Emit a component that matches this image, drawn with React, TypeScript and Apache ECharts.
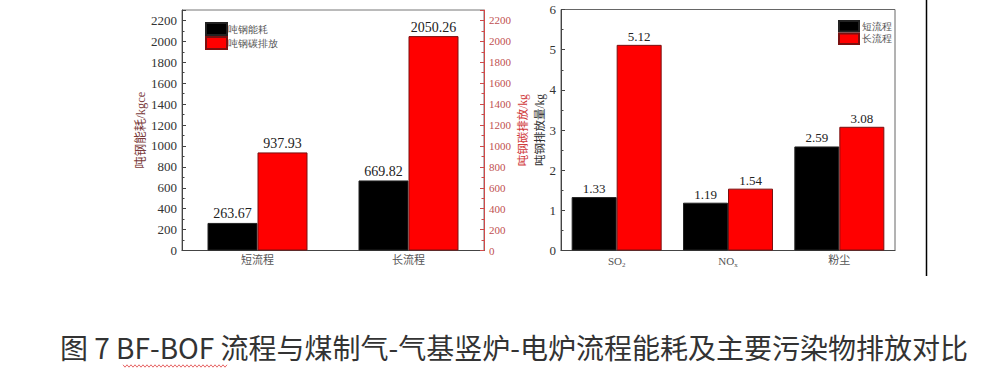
import React, { useEffect, useRef } from "react";
import * as echarts from "echarts";

const routeCategories = ["短流程", "长流程"];
const energyValues = [263.67, 669.82];
const carbonValues = [937.93, 2050.26];
const energyName = "吨钢能耗";
const carbonName = "吨钢碳排放";

const pollutantCategories = ["SO2", "NOx", "粉尘"];
const shortRouteValues = [1.33, 1.19, 2.59];
const longRouteValues = [5.12, 1.54, 3.08];
const shortName = "短流程";
const longName = "长流程";

const captionText = "图 7 BF-BOF 流程与煤制气-气基竖炉-电炉流程能耗及主要污染物排放对比";

const SERIF = "'Liberation Serif', 'Times New Roman', 'Noto Sans CJK SC', serif";

function wavy(x0: number, x1: number, y: number) {
  const pts: number[][] = [];
  let up = true;
  for (let x = x0; x <= x1; x += 2) {
    pts.push([x, up ? y - 1.2 : y + 1.2]);
    up = !up;
  }
  return pts;
}

const plain = (v: number) => String(v);

export default function App() {
  const ref = useRef<HTMLDivElement>(null);
  useEffect(() => {
    document.body.style.margin = "0";
    const chart = echarts.init(ref.current!, null, { renderer: "svg" });
    const catLabel = {
      color: "#555",
      fontSize: 11,
      fontFamily: SERIF,
      margin: 4,
    };
    const option: any = {
      animation: false,
      backgroundColor: "#fff",
      grid: [
        { left: 182, right: 515, top: 10, bottom: 131.5, show: true, borderColor: "#777", borderWidth: 1 },
        { left: 561, right: 104, top: 9.5, bottom: 131.5, show: true, borderColor: "#666", borderWidth: 1 },
      ],
      legend: [
        {
          orient: "vertical",
          left: 200,
          top: 17,
          itemWidth: 21,
          itemHeight: 12,
          itemGap: 0,
          icon: "rect",
          data: [energyName, carbonName],
          textStyle: { fontSize: 10, color: "#555", padding: [0, 0, 0, -4] },
          selectedMode: false,
        },
        {
          orient: "vertical",
          left: 833,
          top: 15,
          itemWidth: 20,
          itemHeight: 10.5,
          itemGap: 0,
          icon: "rect",
          data: [shortName, longName],
          textStyle: { fontSize: 10, color: "#555", padding: [0, 0, 0, -2] },
          selectedMode: false,
        },
      ],
      xAxis: [
        {
          type: "category",
          gridIndex: 0,
          data: routeCategories,
          axisLine: { lineStyle: { color: "#444" } },
          axisTick: { inside: true, lineStyle: { color: "#444" } },
          axisLabel: catLabel,
        },
        {
          type: "category",
          gridIndex: 1,
          data: pollutantCategories,
          axisLine: { lineStyle: { color: "#444" } },
          axisTick: { inside: true, lineStyle: { color: "#444" } },
          axisLabel: {
            ...catLabel,
            formatter: (v: string) =>
              v === "SO2" ? "{n|SO}{s|2}" : v === "NOx" ? "{n|NO}{s|x}" : v,
            rich: {
              n: { fontSize: 11, color: "#555", fontFamily: SERIF },
              s: { fontSize: 7, color: "#555", fontFamily: SERIF, padding: [7, 0, 0, 0] },
            },
          },
        },
      ],
      yAxis: [
        {
          type: "value",
          gridIndex: 0,
          min: 0,
          max: 2300,
          interval: 200,
          name: "吨钢能耗/kgce",
          nameLocation: "middle",
          nameRotate: 90,
          nameGap: 30,
          nameTextStyle: { color: "#7a3b3b", fontSize: 12.5, fontFamily: SERIF },
          axisLine: { show: true, lineStyle: { color: "#444" } },
          axisTick: { show: true, inside: true, length: 4, lineStyle: { color: "#444" } },
          minorTick: { show: true, splitNumber: 2, length: 2.5, lineStyle: { color: "#444" } },
          axisLabel: { color: "#333", fontSize: 13, fontFamily: SERIF, margin: 5, showMaxLabel: false, formatter: plain },
          splitLine: { show: false },
        },
        {
          type: "value",
          gridIndex: 0,
          position: "right",
          min: 0,
          max: 2300,
          interval: 200,
          name: "吨钢碳排放/kg",
          nameLocation: "middle",
          nameRotate: 90,
          nameGap: 33,
          nameTextStyle: { color: "#d03a3a", fontSize: 11.5, fontFamily: SERIF },
          axisLine: { show: true, lineStyle: { color: "#d04a4a" } },
          axisTick: { show: true, inside: true, length: 4, lineStyle: { color: "#d04a4a" } },
          minorTick: { show: true, splitNumber: 2, length: 2.5, lineStyle: { color: "#d04a4a" } },
          axisLabel: { color: "#c05050", fontSize: 11, fontFamily: SERIF, margin: 5, showMaxLabel: false, formatter: plain },
          splitLine: { show: false },
        },
        {
          type: "value",
          gridIndex: 1,
          min: 0,
          max: 6,
          interval: 1,
          name: "吨钢排放量/kg",
          nameLocation: "middle",
          nameRotate: 90,
          nameGap: 14,
          nameTextStyle: { color: "#333", fontSize: 11.5, fontFamily: SERIF },
          axisLine: { show: true, lineStyle: { color: "#444" } },
          axisTick: { show: true, inside: true, length: 4, lineStyle: { color: "#444" } },
          minorTick: { show: true, splitNumber: 2, length: 2.5, lineStyle: { color: "#444" } },
          axisLabel: { color: "#333", fontSize: 13, fontFamily: SERIF, margin: 5, formatter: plain },
          splitLine: { show: false },
        },
      ],
      series: [
        {
          name: energyName,
          type: "bar",
          xAxisIndex: 0,
          yAxisIndex: 0,
          data: energyValues,
          barWidth: 50,
          barGap: "0%",
          itemStyle: { color: "#000", borderColor: "#222", borderWidth: 1 },
          label: { show: true, position: "top", distance: 2, color: "#222", fontSize: 14, fontFamily: SERIF },
        },
        {
          name: carbonName,
          type: "bar",
          xAxisIndex: 0,
          yAxisIndex: 1,
          data: carbonValues,
          barWidth: 50,
          barGap: "0%",
          itemStyle: { color: "#ff0000", borderColor: "#7a1010", borderWidth: 1 },
          label: { show: true, position: "top", distance: 2, color: "#222", fontSize: 14, fontFamily: SERIF },
        },
        {
          name: shortName,
          type: "bar",
          xAxisIndex: 1,
          yAxisIndex: 2,
          data: shortRouteValues,
          barWidth: 45,
          barGap: "0%",
          itemStyle: { color: "#000", borderColor: "#222", borderWidth: 1 },
          label: { show: true, position: "top", distance: 2, color: "#222", fontSize: 13, fontFamily: SERIF },
        },
        {
          name: longName,
          type: "bar",
          xAxisIndex: 1,
          yAxisIndex: 2,
          data: longRouteValues,
          barWidth: 45,
          barGap: "0%",
          itemStyle: { color: "#ff0000", borderColor: "#7a1010", borderWidth: 1 },
          label: { show: true, position: "top", distance: 2, color: "#222", fontSize: 13, fontFamily: SERIF },
        },
      ],
      graphic: [
        {
          type: "line",
          shape: { x1: 926.5, y1: 0, x2: 926.5, y2: 276 },
          style: { stroke: "#000", lineWidth: 1.5 },
        },
        {
          type: "text",
          left: 60,
          top: 333,
          style: {
            text: captionText,
            fontSize: 28,
            fontFamily: "'Noto Sans CJK SC', 'Noto Sans', sans-serif",
            fill: "#333",
          },
        },
        {
          type: "polyline",
          shape: { points: wavy(123, 228, 366) },
          style: { stroke: "#e04040", lineWidth: 0.8, fill: "none" },
        },
      ],
    };
    chart.setOption(option);
    return () => chart.dispose();
  }, []);
  return <div ref={ref} style={{ width: 999, height: 382 }} />;
}
